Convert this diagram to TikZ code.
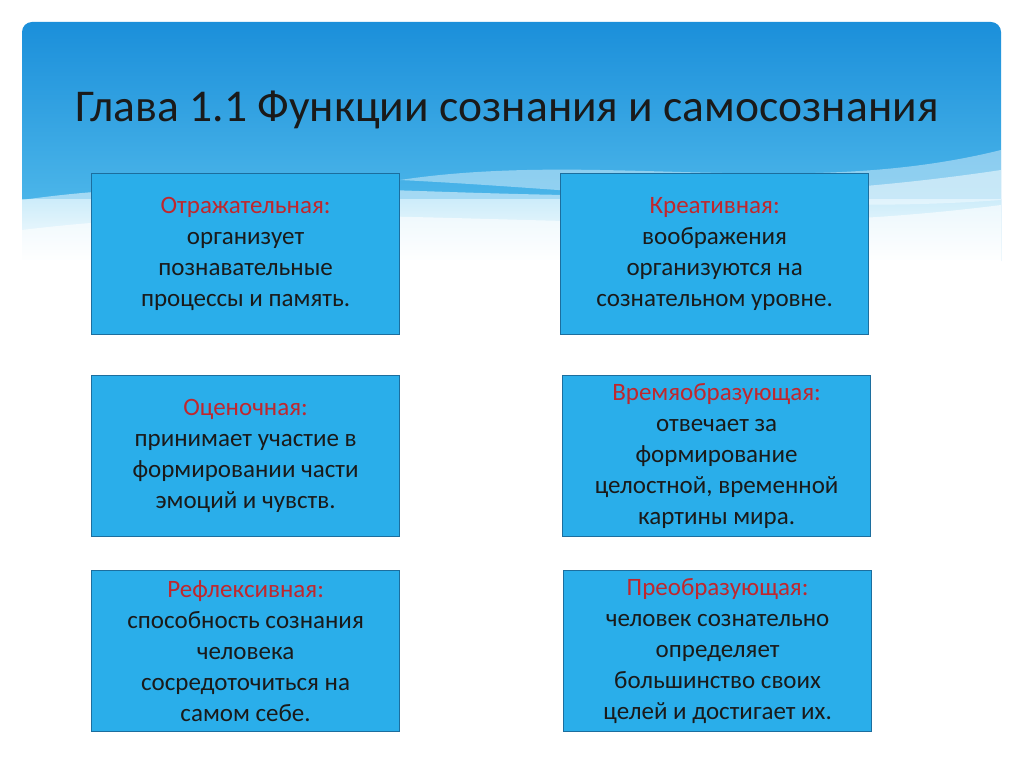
\documentclass[tikz,border=0pt]{standalone}
\usepackage{fontspec}
\setmainfont{Carlito}
\definecolor{topblue}{HTML}{1B8FDA}
\definecolor{midblue}{HTML}{5BC2EE}
\definecolor{boxfill}{HTML}{2AAEEA}
\definecolor{boxline}{HTML}{1C6E9E}
\definecolor{lab}{HTML}{C0272D}
\definecolor{txt}{HTML}{1A1A1A}
\begin{document}
\begin{tikzpicture}[x=1pt,y=-1pt,
  fbox/.style={draw=boxline,line width=1.2pt,fill=boxfill,minimum width=308pt,minimum height=161pt,anchor=north west,align=center,font=\fontsize{25}{31}\selectfont,text=txt,inner sep=0pt}]
\useasboundingbox (0,0) rectangle (1024,767);
\fill[white] (0,0) rectangle (1024,767);
\begin{scope}
\clip[rounded corners=10pt] (22,22) rectangle (1001,755);
\shade[top color=topblue,bottom color=midblue] (22,22) rectangle (1001,260);
\shade[top color=midblue!60!white,bottom color=white] (22,200) rectangle (1001,262);
\fill[white] (22,260) rectangle (1001,755);
\fill[white,opacity=0.5] (22,200) .. controls (300,160) and (600,230) .. (1001,170) -- (1001,262) -- (22,262) -- cycle;
\fill[white,opacity=0.6] (22,230) .. controls (350,190) and (650,250) .. (1001,205) -- (1001,262) -- (22,262) -- cycle;
\fill[white,opacity=0.4] (400,180) .. controls (600,150) and (800,200) .. (1001,150) -- (1001,200) .. controls (800,215) and (600,190) .. (400,180) -- cycle;
\end{scope}
\node[anchor=west,font=\fontsize{45.5}{50}\selectfont,text=txt] (title) at (72,110) {Глава 1.1 Функции сознания и самосознания};
\node[fbox] (b1) at (91,173) {\textcolor{lab}{Отражательная:}\\организует\\познавательные\\процессы и память.};
\node[fbox] (b2) at (560,173) {\textcolor{lab}{Креативная:}\\воображения\\организуются на\\сознательном уровне.};
\node[fbox] (b3) at (91,375) {\textcolor{lab}{Оценочная:}\\принимает участие в\\формировании части\\эмоций и чувств.};
\node[fbox] (b4) at (562,375) {\textcolor{lab}{Времяобразующая:}\\отвечает за\\формирование\\целостной, временной\\картины мира.};
\node[fbox] (b5) at (91,570) {\textcolor{lab}{Рефлексивная:}\\способность сознания\\человека\\сосредоточиться на\\самом себе.};
\node[fbox] (b6) at (563,570) {\textcolor{lab}{Преобразующая:}\\человек сознательно\\определяет\\большинство своих\\целей и достигает их.};
\end{tikzpicture}
\end{document}
